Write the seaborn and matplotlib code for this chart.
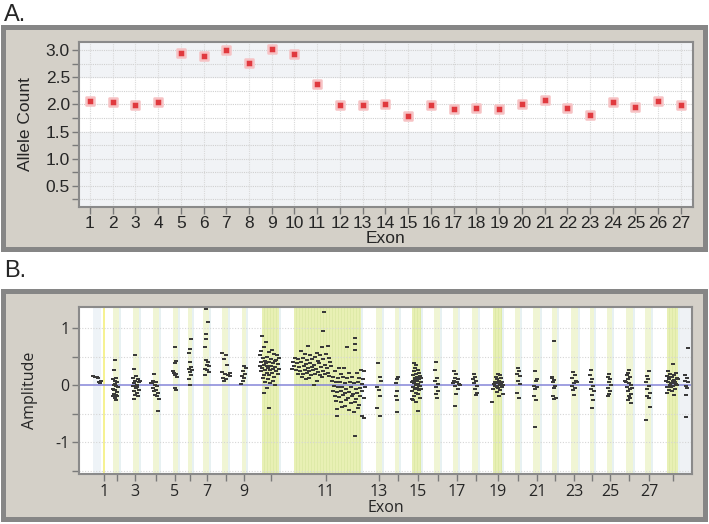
import matplotlib
matplotlib.use("Agg")
import matplotlib.pyplot as plt
from matplotlib.patches import Rectangle
from matplotlib.ticker import FixedLocator
import numpy as np
import pandas as pd
import seaborn as sns

# ---- panel A data ----
exons = list(range(1, 28))
allele_count = [2.06, 2.04, 1.98, 2.05, 2.95, 2.89, 3.00, 2.76, 3.02, 2.93,
                2.37, 1.99, 1.99, 2.01, 1.79, 1.99, 1.92, 1.94, 1.91, 2.01,
                2.08, 1.94, 1.81, 2.04, 1.95, 2.07, 1.98]

# ---- panel B data (position along the gene, arbitrary units) ----
tick_exons = [1, 2, 3, 4, 5, 6, 7, 8, 9, 10, 11, 13, 14, 15, 16, 17, 18, 19, 20,
              21, 22, 23, 24, 25, 26, 27, 28]
tick_pos = [25, 38, 56, 77, 96, 111, 128, 147, 165, 192, 247, 300, 319, 339, 359,
            378, 397, 419, 439, 458, 476, 495, 513, 531, 550, 570, 594]

band_lo = [34, 54, 74, 94, 109, 124, 143, 163, 183, 215, 297, 316, 333, 355, 374,
           393, 414, 436, 454, 473, 492, 511, 528, 547, 566, 588]
band_hi = [40, 60, 80, 99, 113, 130, 149, 167, 200, 282, 303, 320, 342, 361, 379,
           399, 423, 441, 461, 478, 499, 515, 533, 554, 572, 599]

ex1 = [(14, 0.16), (16, 0.15), (18, 0.14), (19, 0.12), (20, 0.06), (21, 0.05), (22, 0.07), (21, 0.04)]
ex2 = [(36, 0.44), (35, 0.26), (37, 0.13), (34, 0.10), (38, 0.05), (36, 0.02), (35, 0.0), (37, -0.02),
       (39, -0.04), (34, -0.06), (36, -0.09), (38, -0.12), (35, -0.15), (37, -0.18), (34, -0.20),
       (36, -0.22), (37, -0.27), (38, -0.19), (35, -0.08), (36, 0.08)]
ex3 = [(56, 0.52), (55, 0.28), (57, 0.16), (54, 0.12), (59, 0.10), (56, 0.07), (60, 0.05), (55, 0.03),
       (58, 0.0), (54, -0.02), (57, -0.05), (60, -0.08), (55, -0.10), (58, -0.13), (56, -0.17),
       (59, -0.20), (55, -0.25), (61, 0.08), (58, -0.03)]
ex4 = [(75, 0.20), (74, 0.08), (77, 0.06), (73, 0.03), (76, 0.0), (78, -0.02), (74, -0.05), (77, -0.08),
       (75, -0.10), (79, -0.13), (76, -0.17), (78, -0.20), (80, -0.25), (79, -0.45), (72, 0.04)]
ex5 = [(96, 0.66), (97, 0.43), (96, 0.38), (94, 0.24), (95, 0.21), (97, 0.20), (96, 0.18), (98, 0.15),
       (96, -0.05), (97, -0.08)]
ex6 = [(112, 0.81), (111, 0.64), (110, 0.56), (111, 0.41), (112, 0.32), (110, 0.29), (113, 0.26),
       (111, 0.23), (112, 0.18), (110, 0.10), (111, 0.0)]
ex7 = [(127, 1.33), (129, 1.10), (127, 0.90), (127, 0.80), (126, 0.66), (127, 0.44), (129, 0.41),
       (128, 0.36), (130, 0.33), (126, 0.28), (128, 0.26), (130, 0.23), (126, 0.17)]
ex8 = [(143, 0.56), (147, 0.52), (145, 0.45), (148, 0.35), (143, 0.23), (146, 0.20), (149, 0.18),
       (144, 0.13), (147, 0.10), (145, 0.07)]
ex9 = [(165, 0.34), (167, 0.30), (164, 0.25), (166, 0.20), (163, 0.16), (165, 0.12), (164, 0.08),
       (162, 0.02), (151, 0.22), (151, 0.16)]
ex10 = [(183, 0.86), (187, 0.75), (185, 0.66), (182, 0.60), (190, 0.58), (195, 0.55), (181, 0.52),
        (188, 0.50), (184, 0.47), (192, 0.46), (197, 0.44), (186, 0.42), (182, 0.40), (190, 0.40),
        (194, 0.38), (199, 0.37), (185, 0.35), (188, 0.34), (192, 0.33), (196, 0.32), (183, 0.30),
        (189, 0.30), (194, 0.29), (200, 0.28), (186, 0.27), (191, 0.26), (197, 0.25), (182, 0.24),
        (188, 0.22), (193, 0.21), (199, 0.20), (185, 0.18), (190, 0.17), (195, 0.15), (184, 0.12),
        (189, 0.10), (194, 0.08), (186, 0.05), (191, 0.03), (196, 0.01), (188, -0.05), (185, -0.13),
        (190, -0.40), (198, 0.52), (193, 0.62), (181, 0.33), (187, 0.38), (196, 0.42), (200, 0.48)]
ex11 = [(245, 1.29), (244, 0.95), (249, 0.69), (229, 0.69), (243, 0.66), (238, 0.57), (222, 0.60),
        (226, 0.55), (231, 0.52), (236, 0.50), (241, 0.53), (247, 0.55), (216, 0.48), (219, 0.45),
        (224, 0.47), (228, 0.44), (233, 0.46), (239, 0.43), (244, 0.45), (250, 0.47), (214, 0.40),
        (218, 0.38), (222, 0.40), (227, 0.37), (231, 0.39), (235, 0.36), (240, 0.38), (246, 0.36),
        (251, 0.40), (215, 0.33), (220, 0.31), (225, 0.33), (229, 0.30), (233, 0.32), (237, 0.29),
        (242, 0.31), (248, 0.30), (252, 0.33), (217, 0.27), (221, 0.25), (226, 0.27), (230, 0.24),
        (234, 0.26), (239, 0.23), (244, 0.25), (249, 0.22), (213, 0.28), (219, 0.20), (224, 0.19),
        (228, 0.21), (232, 0.18), (236, 0.20), (241, 0.17), (246, 0.19), (223, 0.14), (230, 0.12),
        (238, 0.08), (235, 0.0), (243, 0.14), (227, 0.10), (250, 0.16)]
ex12 = [(276, 0.82), (276, 0.72), (268, 0.66), (276, 0.61), (260, 0.30), (265, 0.30), (282, 0.27),
        (285, 0.25), (256, 0.24), (262, 0.20), (270, 0.22), (278, 0.21), (254, 0.15), (259, 0.13),
        (264, 0.14), (268, 0.12), (273, 0.15), (280, 0.12), (284, 0.10), (253, 0.07), (257, 0.05),
        (261, 0.06), (266, 0.04), (271, 0.06), (275, 0.03), (279, 0.05), (283, 0.02), (255, -0.02),
        (259, -0.04), (263, -0.03), (267, -0.06), (272, -0.04), (277, -0.07), (281, -0.05),
        (286, -0.03), (254, -0.10), (258, -0.12), (262, -0.10), (266, -0.14), (270, -0.12),
        (274, -0.15), (278, -0.13), (283, -0.11), (256, -0.19), (260, -0.21), (264, -0.18),
        (269, -0.22), (273, -0.20), (277, -0.24), (281, -0.19), (285, -0.23), (257, -0.28),
        (262, -0.30), (267, -0.27), (272, -0.32), (276, -0.29), (280, -0.35), (258, -0.42),
        (263, -0.38), (270, -0.44), (275, -0.47), (258, -0.54), (283, -0.54), (285, -0.57),
        (276, -0.89), (266, -0.36), (279, -0.41)]
ex13 = [(299, 0.38), (301, 0.15), (302, 0.08), (298, -0.04), (300, -0.09), (301, -0.20), (298, -0.40),
        (301, -0.54)]
ex14 = [(319, 0.15), (318, 0.10), (317, 0.03), (318, -0.10), (317, -0.19), (318, -0.27), (318, -0.47)]
ex15 = [(335, 0.38), (337, 0.35), (336, 0.30), (339, 0.27), (335, 0.25), (340, 0.22), (337, 0.20),
        (334, 0.18), (341, 0.16), (338, 0.14), (336, 0.12), (340, 0.10), (334, 0.08), (338, 0.07),
        (342, 0.05), (335, 0.04), (339, 0.02), (337, 0.0), (341, -0.02), (334, -0.03), (338, -0.05),
        (336, -0.07), (340, -0.09), (333, -0.11), (337, -0.13), (339, -0.16), (335, -0.19),
        (341, -0.22), (334, -0.26), (337, -0.30), (339, -0.45), (342, 0.13), (333, 0.06),
        (340, -0.01), (336, 0.09), (342, -0.06), (333, -0.25)]
ex16 = [(357, 0.40), (356, 0.26), (358, 0.13), (356, 0.08), (359, 0.02), (357, -0.04), (359, -0.10),
        (357, -0.16), (358, -0.22)]
ex17 = [(375, 0.24), (377, 0.19), (376, 0.13), (379, 0.10), (375, 0.07), (378, 0.05), (380, 0.02),
        (376, -0.01), (379, -0.07), (377, -0.16), (376, -0.36), (381, 0.0), (374, 0.04)]
ex18 = [(395, 0.19), (396, 0.15), (394, 0.10), (397, 0.07), (395, 0.03), (398, -0.01), (396, -0.07),
        (398, -0.13), (397, -0.17)]
ex19 = [(419, 0.20), (421, 0.17), (417, 0.15), (422, 0.12), (418, 0.10), (420, 0.08), (416, 0.06),
        (423, 0.05), (419, 0.03), (415, 0.02), (421, 0.0), (417, -0.01), (423, -0.03), (419, -0.05),
        (414, -0.07), (421, -0.09), (418, -0.12), (424, -0.15), (420, -0.20), (413, -0.30),
        (422, 0.04), (416, -0.02), (420, 0.07), (418, -0.04), (424, 0.01)]
ex20 = [(439, 0.30), (440, 0.25), (438, 0.20), (441, 0.16), (439, 0.08), (441, 0.02), (438, -0.13),
        (440, -0.23)]
ex21 = [(456, 0.25), (457, 0.08), (455, -0.01), (458, -0.04), (456, -0.07), (455, -0.19), (457, -0.27),
        (456, -0.73), (458, 0.10)]
ex22 = [(475, 0.77), (473, 0.15), (475, 0.09), (474, 0.05), (476, -0.01), (475, -0.05), (477, -0.22),
        (475, -0.25), (473, 0.12), (474, -0.20)]
ex23 = [(494, 0.23), (496, 0.18), (493, 0.12), (497, 0.08), (495, 0.03), (493, -0.01), (496, -0.05),
        (494, -0.09), (495, -0.17), (498, 0.05)]
ex24 = [(512, 0.27), (511, 0.18), (513, 0.10), (512, 0.05), (514, -0.01), (512, -0.07), (515, -0.11),
        (513, -0.17), (514, -0.27), (513, -0.40)]
ex25 = [(530, 0.20), (529, 0.15), (531, 0.11), (530, 0.05), (532, 0.01), (529, -0.05), (531, -0.10),
        (530, -0.15), (529, -0.20)]
ex26 = [(550, 0.27), (549, 0.22), (548, 0.18), (551, 0.14), (549, 0.10), (547, 0.06), (550, 0.03),
        (552, 0.0), (548, -0.03), (551, -0.07), (549, -0.11), (552, -0.15), (550, -0.19), (551, -0.23),
        (549, -0.27), (552, -0.32), (546, 0.08), (553, -0.05)]
ex27 = [(570, 0.24), (568, 0.16), (569, 0.10), (567, 0.06), (570, -0.01), (568, -0.07), (571, -0.13),
        (568, -0.19), (570, -0.23), (571, -0.38), (567, -0.61)]
ex28 = [(594, 0.37), (589, 0.25), (597, 0.22), (591, 0.20), (595, 0.18), (588, 0.16), (593, 0.14),
        (598, 0.12), (590, 0.10), (594, 0.08), (596, 0.06), (589, 0.05), (592, 0.03), (597, 0.02),
        (591, 0.0), (594, -0.02), (588, -0.04), (596, -0.06), (590, -0.08), (593, -0.10), (588, -0.13),
        (595, -0.17), (599, 0.11), (587, 0.07), (598, 0.01), (592, -0.03), (590, 0.15), (595, 0.09),
        (593, 0.04)]
tail = [(609, 0.65), (606, 0.18), (608, 0.12), (606, 0.08), (609, 0.05), (607, -0.01), (608, -0.05),
        (607, -0.17), (607, -0.56)]

clusters = [ex1, ex2, ex3, ex4, ex5, ex6, ex7, ex8, ex9, ex10, ex11, ex12, ex13, ex14, ex15, ex16,
            ex17, ex18, ex19, ex20, ex21, ex22, ex23, ex24, ex25, ex26, ex27, ex28, tail]
df_b = pd.DataFrame([p for c in clusters for p in c], columns=["pos", "amp"])
df_a = pd.DataFrame({"exon": exons, "count": allele_count})

sns.set_theme(style="white")
plt.rcParams['font.family'] = ['Liberation Sans', 'DejaVu Sans']
OPEN = ["Open Sans", "DejaVu Sans"]

fig = plt.figure(figsize=(7.09, 5.24), dpi=100)
fig.patch.set_facecolor("white")

# grey frames behind the axes
for y0, h in [(0.5248, 0.4237), (0.0095, 0.4352)]:
    fig.patches.append(Rectangle((0.0042, y0), 0.9902, h, transform=fig.transFigure,
                                 fc="#d4d0c8", ec="#868686", lw=3.6, zorder=-5))
fig.text(0.006, 0.972, "A.", fontsize=17, va="center", ha="left")
fig.text(0.006, 0.483, "B.", fontsize=17, va="center", ha="left")

# ---- panel A ----
axA = fig.add_axes([0.1114, 0.605, 0.866, 0.315])
axA.set_xlim(0.52, 27.53)
axA.set_ylim(0.11, 3.15)
axA.axhspan(2.5, 3.15, color="#f1f3f6", zorder=0)
axA.axhspan(0.11, 1.5, color="#f1f3f6", zorder=0)
for yy in np.arange(0.25, 3.1, 0.25):
    axA.axhline(yy, color="#d0d0d0", lw=0.8, ls=(0, (1, 1)), zorder=1)
for xx in exons:
    axA.axvline(xx, color="#dadada", lw=0.8, ls=(0, (1, 1)), zorder=1)
sns.scatterplot(data=df_a, x="exon", y="count", ax=axA, marker="s", s=28,
                color="#e0393e", edgecolor="#f6c2c4", linewidth=1.8, zorder=3)
axA.set_xticks(exons)
axA.set_yticks([0.5, 1.0, 1.5, 2.0, 2.5, 3.0])
axA.yaxis.set_minor_locator(FixedLocator([0.25, 0.75, 1.25, 1.75, 2.25, 2.75]))
axA.tick_params(axis="both", which="both", direction="out", length=5, width=1,
                color="#7a7a7a", labelsize=12.5, pad=1.5, bottom=True, left=True)
axA.set_xlabel("Exon", fontsize=12.5, labelpad=0)
axA.set_ylabel("Allele Count", fontsize=12.5, labelpad=9)
for sp in axA.spines.values():
    sp.set_color("#8a8a8a")
    sp.set_linewidth(1.5)

# ---- panel B ----
axB = fig.add_axes([0.1114, 0.0954, 0.8646, 0.3187])
axB.set_xlim(0, 613)
axB.set_ylim(-1.56, 1.37)
axB.axvspan(14, 22, color="#eef3f7", zorder=0, lw=0)
axB.axvspan(599, 613, color="#eff2f5", zorder=0, lw=0)
for lo, hi in zip(band_lo, band_hi):
    strong = (hi - lo) > 8
    axB.axvspan(lo, hi, color="#e8f0b4" if strong else "#f0f5d4", zorder=0, lw=0)
    axB.axvspan(hi, hi + 2, color="#e7f1f2", zorder=0, lw=0)
    if strong:
        for xx in np.arange(lo + 2, hi, 3):
            axB.axvline(xx, color="#dde9a6", lw=0.6, zorder=0)
axB.axvspan(24, 26, color="#f6f293", zorder=0, lw=0)
for yy in [-1.5, -1.0, -0.5, 0.5, 1.0]:
    axB.axhline(yy, color="#d6d6d6", lw=0.8, ls=(0, (1, 1.5)), zorder=1)
axB.axhline(0, color="#8585d8", lw=1.1, zorder=2)
rect = [(-1, -0.65), (1, -0.65), (1, 0.65), (-1, 0.65)]
sns.scatterplot(data=df_b, x="pos", y="amp", ax=axB, marker=rect, s=10,
                color="#3a3a3a", linewidth=0, zorder=3)
axB.xaxis.set_major_locator(FixedLocator(tick_pos))
axB.set_xticklabels([str(e) if e % 2 == 1 else "" for e in tick_exons])
axB.set_yticks([-1, 0, 1])
axB.set_yticklabels(["-1", "0", "1"])
axB.yaxis.set_minor_locator(FixedLocator([-1.5, -0.5, 0.5]))
axB.tick_params(axis="both", which="both", direction="out", length=5, width=1,
                color="#7a7a7a", labelsize=11.5, pad=2, bottom=True, left=True)
for lab in axB.get_xticklabels() + axB.get_yticklabels():
    lab.set_family(OPEN)
axB.set_xlabel("Exon", fontsize=11.5, labelpad=0, family=OPEN)
axB.set_ylabel("Amplitude", fontsize=11.5, labelpad=12, family=OPEN)
for sp in axB.spines.values():
    sp.set_color("#8a8a8a")
    sp.set_linewidth(1.5)

fig.savefig("out.png", dpi=100)
